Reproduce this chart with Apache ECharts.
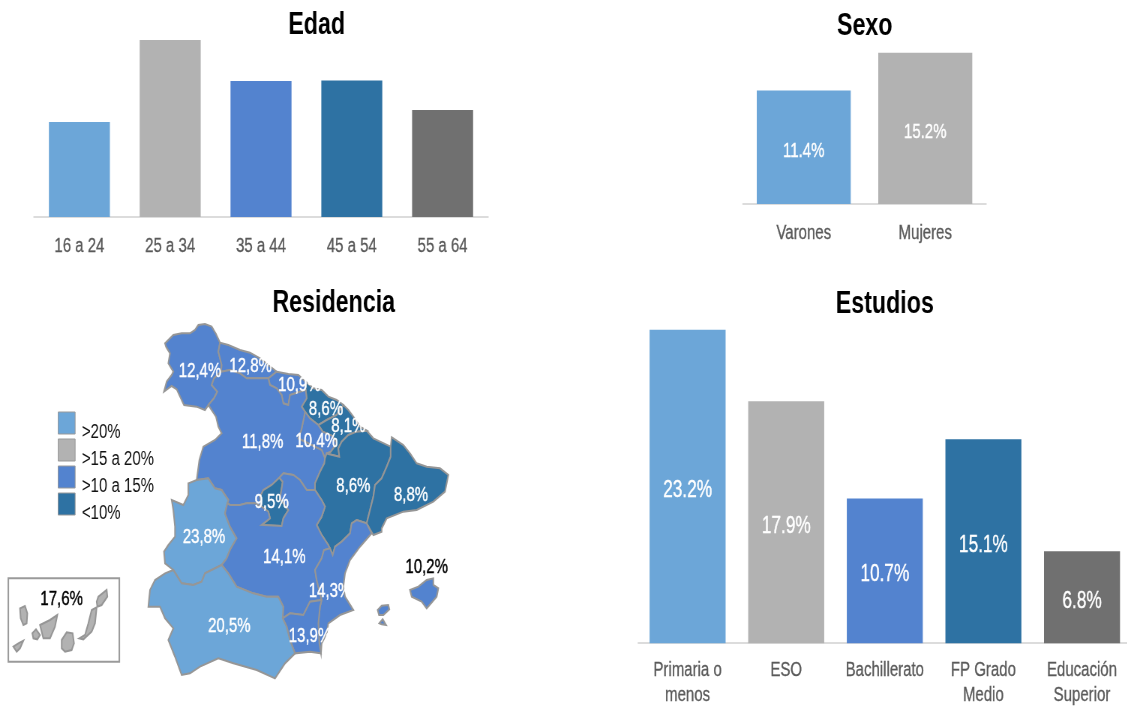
<!DOCTYPE html>
<html><head><meta charset="utf-8">
<style>html,body{margin:0;padding:0;background:#fff;width:1127px;height:707px;overflow:hidden}
#c{width:1502.67px;height:707px;transform:scale(0.75,1);transform-origin:0 0;filter:blur(0.45px)}</style>
<script src="https://cdn.jsdelivr.net/npm/echarts@6/dist/echarts.min.js"></script>
</head><body><div id="c"></div>
<script>
// ---- data ----
const edadCats = ['16 a 24','25 a 34','35 a 44','45 a 54','55 a 64'];
const edadVals = [9.5,17.7,13.6,13.65,10.7];
const sexoCats = ['Varones','Mujeres'];
const sexoVals = [11.4,15.2];
const estudiosCats = ['Primaria o\nmenos','ESO','Bachillerato','FP Grado\nMedio','Educación\nSuperior'];
const estudiosVals = [23.2,17.9,10.7,15.1,6.8];
const regionNames = ['Galicia','Asturias','Cantabria','País Vasco','Navarra','La Rioja','Castilla y León','Aragón','Cataluña','Madrid','Extremadura','Castilla-La Mancha','C. Valenciana','Murcia','Andalucía','Baleares','Canarias'];
const regionVals  = [12.4,12.8,10.9,8.6,8.1,10.4,11.8,8.6,8.8,9.5,23.8,14.1,14.3,13.9,20.5,10.2,17.6];
const legendNames = ['>20%','>15 a 20%','>10 a 15%','<10%'];
const barColors = ['#6ca6d8','#b2b2b2','#5383cf','#2e72a3','#707070'];
const classColor = v => v>20?barColors[0]:v>15?barColors[1]:v>10?barColors[2]:barColors[3];

// the source text is condensed: the page is drawn wider and squeezed horizontally
const S = 0.75;
const X = x => x / S;

// ---- map geometry (outline tracing units: 3 per screen pixel) ----
const outlines = {
 'Galicia':[[[75,100],[100,75],[125,70],[150,70],[165,60],[175,45],[195,42],[215,50],[228,72],[240,98],[235,125],[245,165],[243,185],[222,205],[215,225],[232,245],[222,265],[205,285],[195,300],[170,290],[132,285],[118,255],[110,238],[95,228],[72,245],[80,215],[95,195],[100,185],[85,160],[90,130],[78,110]]],
 'Asturias':[[[240,98],[265,105],[300,120],[330,128],[360,145],[385,165],[410,185],[385,205],[360,205],[340,205],[320,205],[300,190],[270,180],[243,185],[245,165],[235,125]]],
 'Cantabria':[[[410,185],[445,192],[475,195],[497,215],[497,240],[480,245],[450,255],[445,285],[430,280],[425,255],[410,235],[390,225],[385,205]]],
 'País Vasco':[[[497,215],[520,235],[545,240],[565,260],[590,270],[610,285],[590,315],[560,330],[535,345],[510,325],[495,305],[485,290],[500,265],[497,240]]],
 'Navarra':[[[610,285],[625,300],[640,320],[660,350],[680,362],[650,365],[625,375],[605,395],[595,415],[598,440],[565,432],[560,430],[572,425],[590,400],[578,378],[548,365],[535,345],[560,330],[590,315]]],
 'La Rioja':[[[495,305],[510,325],[535,345],[548,365],[578,378],[590,400],[572,425],[560,430],[555,445],[545,420],[475,385],[484,360],[492,322]]],
 'Castilla y León':[[[243,185],[270,180],[300,190],[320,205],[340,205],[360,205],[385,205],[390,225],[410,235],[425,255],[430,280],[445,285],[450,255],[480,245],[497,240],[500,265],[485,290],[495,305],[492,322],[484,360],[475,385],[545,420],[555,445],[553,460],[540,485],[525,520],[525,540],[500,540],[480,510],[460,495],[430,490],[418,503],[395,525],[370,540],[360,560],[365,590],[345,580],[320,580],[300,585],[270,585],[262,580],[265,570],[245,540],[225,535],[205,505],[170,510],[178,450],[190,410],[225,390],[245,370],[235,350],[228,320],[205,285],[222,265],[232,245],[215,225],[222,205]]],
 'Aragón':[[[680,362],[700,385],[725,397],[752,410],[752,440],[740,470],[725,505],[705,525],[700,560],[690,600],[680,640],[650,630],[635,640],[630,670],[605,695],[585,710],[578,735],[565,705],[545,675],[530,645],[545,620],[555,590],[545,570],[525,540],[525,520],[540,485],[553,460],[555,445],[560,430],[565,432],[598,440],[595,415],[605,395],[625,375],[650,365]]],
 'Cataluña':[[[752,410],[755,382],[790,405],[810,430],[830,460],[860,470],[900,475],[925,495],[915,545],[880,575],[830,600],[790,605],[740,625],[725,655],[725,665],[700,675],[680,640],[690,600],[700,560],[705,525],[725,505],[740,470],[752,440]]],
 'Madrid':[[[418,503],[428,515],[425,535],[420,565],[445,600],[430,625],[425,648],[365,645],[390,625],[385,605],[365,590],[360,560],[370,540],[395,525]]],
 'Extremadura':[[[145,520],[170,510],[205,505],[225,535],[245,540],[265,570],[262,580],[255,610],[270,650],[290,685],[270,720],[260,745],[245,765],[195,790],[185,815],[160,825],[125,820],[100,780],[75,760],[72,725],[85,705],[105,680],[105,650],[100,600],[95,570],[130,585],[145,555]]],
 'Castilla-La Mancha':[[[270,585],[300,585],[320,580],[345,580],[365,590],[385,605],[390,625],[365,645],[425,648],[430,625],[445,600],[420,565],[425,535],[428,515],[418,503],[430,490],[460,495],[480,510],[500,540],[525,540],[545,570],[555,590],[545,620],[530,645],[545,675],[565,705],[578,735],[570,715],[552,720],[545,745],[525,780],[530,810],[545,870],[510,875],[490,915],[450,910],[428,925],[430,890],[415,860],[380,860],[340,850],[290,830],[265,790],[245,765],[260,745],[270,720],[290,685],[270,650],[255,610],[262,580]]],
 'C. Valenciana':[[[650,630],[680,640],[695,670],[660,710],[630,750],[615,790],[610,830],[615,860],[640,900],[600,915],[565,940],[560,970],[545,1000],[543,1030],[538,1000],[535,940],[540,890],[545,870],[530,810],[525,780],[545,745],[552,720],[570,715],[578,735],[585,710],[605,695],[630,670],[635,640]]],
 'Murcia':[[[428,925],[450,910],[490,915],[510,875],[545,870],[540,890],[535,940],[538,1000],[543,1030],[510,1025],[465,1030],[450,990],[440,950]]],
 'Andalucía':[[[245,765],[195,790],[185,815],[160,825],[125,820],[100,780],[75,790],[45,810],[30,840],[25,890],[60,890],[75,925],[100,955],[85,990],[105,1040],[125,1095],[150,1090],[180,1070],[235,1045],[280,1060],[350,1080],[405,1105],[435,1060],[465,1030],[450,990],[440,950],[428,925],[430,890],[415,860],[380,860],[340,850],[290,830],[265,790]]],
 'Baleares':[[[810,840],[835,830],[860,810],[880,805],[880,825],[895,835],[890,860],[860,895],[845,875],[815,860]],[[713,900],[725,887],[745,885],[748,898],[730,915],[717,915]],[[718,940],[728,928],[738,945],[725,943]]],
 'Canarias':[[[-360,895],[-345,888],[-338,910],[-340,940],[-350,945],[-358,925]],[[-300,945],[-270,930],[-248,915],[-255,950],[-270,985],[-290,985]],[[-323,970],[-312,958],[-300,975],[-308,988],[-320,985]],[[-380,1010],[-365,1000],[-350,992],[-360,1015],[-370,1025]],[[-235,990],[-220,967],[-202,970],[-198,1000],[-205,1020],[-225,1025],[-235,1015]],[[-182,985],[-165,975],[-155,940],[-145,900],[-130,892],[-135,940],[-145,965],[-170,988]],[[-130,875],[-125,860],[-100,840],[-98,860],[-115,885],[-128,890]]]
};
const labelSpots = {'Galicia':[180,183],'Asturias':[332,168],'Cantabria':[478,225],'País Vasco':[558,298],'Navarra':[625,348],'La Rioja':[530,395],'Castilla y León':[368,398],'Aragón':[640,530],'Cataluña':[813,556],'Madrid':[395,578],'Extremadura':[192,683],'Castilla-La Mancha':[433,741],'C. Valenciana':[570,843],'Murcia':[510,980],'Andalucía':[268,950],'Baleares':[860,771],'Canarias':[-235,868]};
const insetFrame = [[-395,805],[-62,805],[-62,1055],[-395,1055]];

const flip = ring => { const r = ring.map(p=>[X(p[0]),-p[1]]); r.push(r[0]); return r; };
const features = regionNames.map(n=>({type:'Feature',properties:{name:n,cp:[X(labelSpots[n][0]),-labelSpots[n][1]]},
  geometry:{type:'MultiPolygon',coordinates:outlines[n].map(r=>[flip(r)])}}));
features.unshift({type:'Feature',properties:{name:'Marco',cp:[X(-230),-930]},geometry:{type:'Polygon',coordinates:[flip(insetFrame)]}});
echarts.registerMap('es',{type:'FeatureCollection',features});

const all = [...insetFrame,...Object.values(outlines).flat(2)];
const minU=Math.min(...all.map(p=>p[0])),maxU=Math.max(...all.map(p=>p[0]));
const minV=Math.min(...all.map(p=>p[1])),maxV=Math.max(...all.map(p=>p[1]));

const FONT='"Liberation Sans",Arial,sans-serif';
const titleAt=(text,x,y,size=31)=>({text,left:X(x-3),top:y-size/2-4,textAlign:'center',textStyle:{fontFamily:FONT,fontWeight:'bold',fontSize:size,color:'#000',lineHeight:size+2}});
const xAx=(gridIndex,data,margin)=>({type:'category',gridIndex,data,axisTick:{show:false},
  axisLine:{lineStyle:{color:'#dcdcdc',width:2}},
  axisLabel:{interval:0,margin,color:'#595959',fontFamily:FONT,fontSize:20,lineHeight:25,textBorderColor:'#595959',textBorderWidth:0.3}});
const yAx=(gridIndex,max)=>({type:'value',gridIndex,min:0,max,show:false});
const barSeries=(i,vals,barWidth,size,colors)=>({type:'bar',xAxisIndex:i,yAxisIndex:i,barWidth:X(barWidth),
  data:vals.map((v,k)=>({value:v,itemStyle:{color:colors[k]}})),
  label:{show:size>0,position:'inside',offset:[0,4],color:'#fff',textBorderColor:'#fff',textBorderWidth:0.4,fontFamily:FONT,fontSize:size,formatter:p=>p.value.toFixed(1)+'%'}});
const gridAt=(l,t,w,h)=>({left:X(l),top:t,width:X(w),height:h,outerBoundsMode:'none'});

const option={
 animation:false,
 backgroundColor:'#fff',
 title:[titleAt('Edad',316,23),titleAt('Sexo',864,24),titleAt('Residencia',333,301),titleAt('Estudios',884,302)],
 legend:{left:X(54),top:399,orient:'vertical',selectedMode:false,icon:'rect',itemWidth:X(17),itemHeight:22,itemGap:-11,itemStyle:{borderColor:'#999',borderWidth:1},
   data:legendNames,formatter:n=>'\n\u2009'+n,textStyle:{fontFamily:FONT,fontSize:20,lineHeight:18,color:'#111'}},
 grid:[gridAt(34,40,454,177),gridAt(743,52.7,243,151.3),gridAt(638.3,329.7,493,313.5)],
 xAxis:[xAx(0,edadCats,17),xAx(1,sexoCats,17),xAx(2,estudiosCats,15)],
 yAxis:[yAx(0,17.7),yAx(1,15.2),yAx(2,23.2)],
 series:[
  barSeries(0,edadVals,61,0,barColors),
  barSeries(1,sexoVals,94,20,barColors),
  barSeries(2,estudiosVals,76,23,barColors),
  ...legendNames.map((n,i)=>({name:n,type:'line',xAxisIndex:0,yAxisIndex:0,data:[],itemStyle:{color:barColors[i]}})),
  {type:'map',map:'es',aspectScale:1,roam:false,silent:true,showLegendSymbol:false,
   left:X(140+minU/3),top:310+minV/3,width:X((maxU-minU)/3),height:(maxV-minV)/3,
   itemStyle:{areaColor:'rgba(0,0,0,0)',borderColor:'#969696',borderWidth:2},
   label:{show:true,color:'#fff',textBorderColor:'#fff',textBorderWidth:0.4,fontFamily:FONT,fontSize:20,formatter:p=>isNaN(p.value)?'':p.value.toFixed(1).replace('.',',')+'%'},
   data:[{name:'Marco',value:NaN,label:{show:false},itemStyle:{areaColor:'rgba(0,0,0,0)',borderColor:'#9a9a9a',borderWidth:2}},
     ...regionNames.map((n,i)=>({name:n,value:regionVals[i],
      itemStyle:{areaColor:classColor(regionVals[i])},
      label:(n==='Baleares'||n==='Canarias')?{color:'#000',textBorderColor:'#000'}:{}}))]}
 ]
};
echarts.init(document.getElementById('c'),null,{renderer:'canvas'}).setOption(option);
</script></body></html>
